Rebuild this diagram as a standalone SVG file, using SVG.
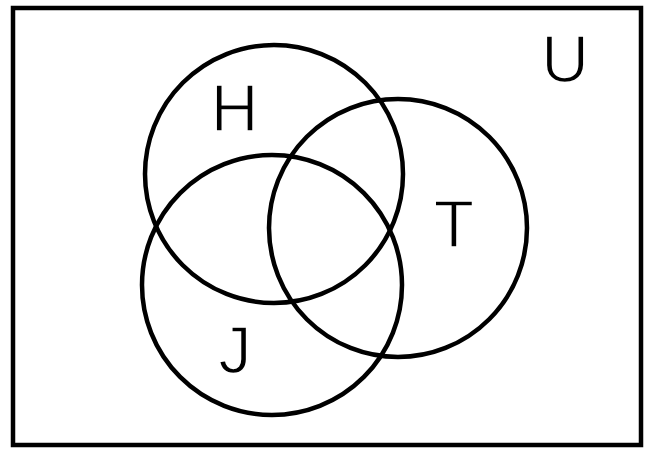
<svg xmlns="http://www.w3.org/2000/svg" width="648" height="450" viewBox="0 0 648 450">
<style>
.set{fill:none;stroke:#000;stroke-width:4.5}
.lbl{font-family:"Liberation Sans",Arial,sans-serif;font-size:66px;fill:#000;stroke:#fff;stroke-width:1.5;text-anchor:middle}
</style>
<rect x="0" y="0" width="648" height="450" fill="#fff"/>
<g id="universe">
<rect x="13" y="8" width="628" height="437" fill="none" stroke="#000" stroke-width="4.5"/>
<text class="lbl" x="565" y="82">U</text>
</g>
<g id="H">
<circle class="set" cx="274" cy="174" r="129"/>
<text class="lbl" x="234.5" y="131">H</text>
</g>
<g id="T">
<circle class="set" cx="398" cy="228" r="129"/>
<text class="lbl" x="454" y="247">T</text>
</g>
<g id="J">
<circle class="set" cx="272" cy="285" r="130"/>
<text class="lbl" x="235" y="373">J</text>
</g>
</svg>
